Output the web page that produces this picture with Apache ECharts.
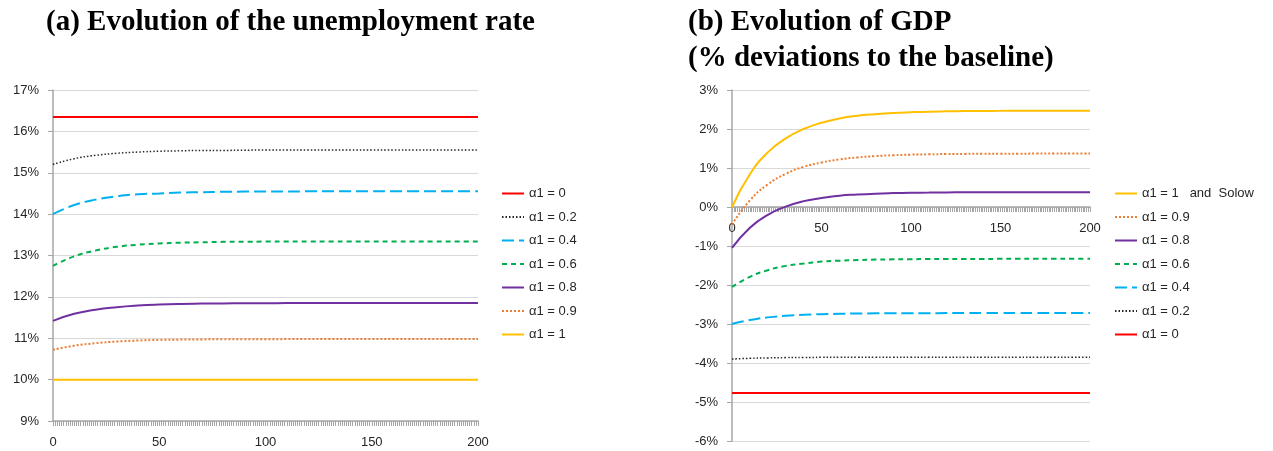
<!DOCTYPE html>
<html>
<head>
<meta charset="utf-8">
<script src="https://cdn.jsdelivr.net/npm/echarts@6/dist/echarts.min.js"></script>
<style>
  html, body { margin: 0; padding: 0; background: #fff; }
  #chart { width: 1273px; height: 451px; }
</style>
</head>
<body>
<div id="chart"></div>
<script>
// Periods at which each simulated path is sampled
const periods = [0, 10, 20, 30, 40, 50, 60, 70, 80, 90, 100, 110, 120, 130, 140, 150, 160, 170, 180, 190, 200];

// (a) Unemployment rate, %
const unempA0  = [16.35, 16.35, 16.35, 16.35, 16.35, 16.35, 16.35, 16.35, 16.35, 16.35, 16.35, 16.35, 16.35, 16.35, 16.35, 16.35, 16.35, 16.35, 16.35, 16.35, 16.35];
const unempA02 = [15.20, 15.34, 15.42, 15.47, 15.50, 15.52, 15.53, 15.54, 15.54, 15.545, 15.55, 15.55, 15.55, 15.55, 15.55, 15.55, 15.55, 15.55, 15.55, 15.55, 15.55];
const unempA04 = [14.00, 14.22, 14.35, 14.43, 14.48, 14.50, 14.52, 14.53, 14.54, 14.544, 14.546, 14.548, 14.55, 14.55, 14.55, 14.55, 14.55, 14.55, 14.55, 14.55, 14.55];
const unempA06 = [12.75, 12.98, 13.12, 13.21, 13.26, 13.29, 13.31, 13.32, 13.33, 13.333, 13.336, 13.338, 13.34, 13.34, 13.34, 13.34, 13.34, 13.34, 13.34, 13.34, 13.34];
const unempA08 = [11.42, 11.59, 11.69, 11.75, 11.79, 11.815, 11.83, 11.837, 11.842, 11.845, 11.847, 11.849, 11.85, 11.85, 11.85, 11.85, 11.85, 11.85, 11.85, 11.85, 11.85];
const unempA09 = [10.72, 10.82, 10.88, 10.92, 10.945, 10.96, 10.967, 10.972, 10.975, 10.977, 10.978, 10.979, 10.98, 10.98, 10.98, 10.98, 10.98, 10.98, 10.98, 10.98, 10.98];
const unempA1  = [10.00, 10.00, 10.00, 10.00, 10.00, 10.00, 10.00, 10.00, 10.00, 10.00, 10.00, 10.00, 10.00, 10.00, 10.00, 10.00, 10.00, 10.00, 10.00, 10.00, 10.00];

// (b) GDP, % deviation from the baseline
const gdpA1  = [0.00, 0.84, 1.40, 1.76, 2.00, 2.16, 2.27, 2.34, 2.38, 2.41, 2.43, 2.445, 2.453, 2.459, 2.463, 2.465, 2.467, 2.468, 2.469, 2.47, 2.47];
const gdpA09 = [-0.45, 0.17, 0.58, 0.85, 1.03, 1.14, 1.22, 1.27, 1.305, 1.327, 1.342, 1.351, 1.358, 1.362, 1.365, 1.367, 1.368, 1.369, 1.37, 1.37, 1.37];
const gdpA08 = [-1.05, -0.53, -0.20, 0.01, 0.15, 0.23, 0.29, 0.32, 0.342, 0.356, 0.365, 0.37, 0.374, 0.377, 0.378, 0.379, 0.38, 0.38, 0.38, 0.38, 0.38];
const gdpA06 = [-2.05, -1.79, -1.62, -1.51, -1.45, -1.40, -1.377, -1.36, -1.349, -1.342, -1.338, -1.335, -1.333, -1.332, -1.331, -1.33, -1.33, -1.33, -1.33, -1.33, -1.33];
const gdpA04 = [-3.00, -2.90, -2.83, -2.79, -2.765, -2.749, -2.738, -2.732, -2.727, -2.725, -2.723, -2.722, -2.721, -2.72, -2.72, -2.72, -2.72, -2.72, -2.72, -2.72, -2.72];
const gdpA02 = [-3.90, -3.88, -3.87, -3.862, -3.858, -3.855, -3.853, -3.852, -3.851, -3.85, -3.85, -3.85, -3.85, -3.85, -3.85, -3.85, -3.85, -3.85, -3.85, -3.85, -3.85];
const gdpA0  = [-4.77, -4.77, -4.77, -4.77, -4.77, -4.77, -4.77, -4.77, -4.77, -4.77, -4.77, -4.77, -4.77, -4.77, -4.77, -4.77, -4.77, -4.77, -4.77, -4.77, -4.77];

const namesLeft  = ['α1 = 0', 'α1 = 0.2', 'α1 = 0.4', 'α1 = 0.6', 'α1 = 0.8', 'α1 = 0.9', 'α1 = 1'];
const namesRight = ['α1 = 1   and  Solow', 'α1 = 0.9', 'α1 = 0.8', 'α1 = 0.6', 'α1 = 0.4', 'α1 = 0.2', 'α1 = 0'];

// Line looks, keyed by α1 value
const looks = {
  '0':   { color: '#ff0000', width: 2,   type: 'solid' },
  '0.2': { color: '#262626', width: 1.5, type: [1.5, 2] },
  '0.4': { color: '#00b0f0', width: 2,   type: [12, 5] },
  '0.6': { color: '#00b050', width: 2,   type: [5, 4] },
  '0.8': { color: '#7030a0', width: 2,   type: 'solid' },
  '0.9': { color: '#ed7d31', width: 2,   type: [2, 2] },
  '1':   { color: '#ffc000', width: 2,   type: 'solid' }
};

function pairs(values) {
  return periods.map((t, i) => [t, values[i]]);
}

function lineSeries(name, key, values, axisIndex) {
  const lk = looks[key];
  return {
    name: name,
    type: 'line',
    xAxisIndex: axisIndex,
    yAxisIndex: axisIndex,
    data: pairs(values),
    smooth: 0.5,
    showSymbol: false,
    symbol: 'none',
    color: lk.color,
    lineStyle: { color: lk.color, width: lk.width, type: lk.type },
    emphasis: { disabled: true },
    animation: false
  };
}

const FONT = 'Liberation Sans';
const labelColor = '#262626';
const axisGray = '#a6a6a6';
const gridGray = '#d9d9d9';

const gridA = { left: 53, top: 90, width: 425, height: 331 };
const gridB = { left: 732, top: 90, width: 358, height: 351 };
const rangeA = [9, 17];
const rangeB = [-6, 3];

// Shift of the GDP time axis from the grid bottom up to the 0% line
const zeroShiftB = -gridB.height * (0 - rangeB[0]) / (rangeB[1] - rangeB[0]);

function xAxisDef(gridIndex, offset) {
  return {
    type: 'value',
    gridIndex: gridIndex,
    min: 0, max: 200, interval: 50,
    offset: offset,
    axisLine: { show: true, onZero: false, lineStyle: { color: axisGray, width: 1.5 } },
    axisTick: { show: true, length: 5, lineStyle: { color: axisGray } },
    minorTick: { show: true, splitNumber: 50, length: 5, lineStyle: { color: axisGray } },
    splitLine: { show: false },
    axisLabel: { color: labelColor, fontFamily: FONT, fontSize: 13, margin: 15 }
  };
}

function yAxisDef(gridIndex, range) {
  return {
    type: 'value',
    gridIndex: gridIndex,
    min: range[0], max: range[1], interval: 1,
    axisLine: { show: true, lineStyle: { color: axisGray, width: 1.5 } },
    axisTick: { show: true, length: 5, lineStyle: { color: axisGray } },
    splitLine: { show: true, lineStyle: { color: gridGray, width: 1 } },
    axisLabel: {
      color: labelColor, fontFamily: FONT, fontSize: 13, margin: 14,
      formatter: v => v + '%'
    }
  };
}

const titleFont = {
  fontFamily: 'Liberation Serif', fontWeight: 'bold', fontSize: 29,
  color: '#000', lineHeight: 36
};

const legendText = { color: labelColor, fontFamily: FONT, fontSize: 13 };

function legendDef(names, left) {
  return {
    data: names, orient: 'vertical', left: left, top: 187, padding: 0,
    itemWidth: 22, itemHeight: 14, itemGap: 10.5,
    itemStyle: { opacity: 0 },
    textStyle: legendText,
    selectedMode: false
  };
}

const option = {
  backgroundColor: '#ffffff',
  animation: false,
  title: [
    { text: '(a) Evolution of the unemployment rate', left: 46, top: 5, padding: 0, textStyle: titleFont },
    { text: '(b) Evolution of GDP\n(% deviations to the baseline)', left: 688, top: 5, padding: 0, textStyle: titleFont }
  ],
  grid: [gridA, gridB],
  xAxis: [xAxisDef(0, 0), xAxisDef(1, zeroShiftB)],
  yAxis: [yAxisDef(0, rangeA), yAxisDef(1, rangeB)],
  legend: [legendDef(namesLeft, 501), legendDef(namesRight, 1114)],
  series: [
    lineSeries('α1 = 0',   '0',   unempA0,  0),
    lineSeries('α1 = 0.2', '0.2', unempA02, 0),
    lineSeries('α1 = 0.4', '0.4', unempA04, 0),
    lineSeries('α1 = 0.6', '0.6', unempA06, 0),
    lineSeries('α1 = 0.8', '0.8', unempA08, 0),
    lineSeries('α1 = 0.9', '0.9', unempA09, 0),
    lineSeries('α1 = 1',   '1',   unempA1,  0),

    lineSeries('α1 = 1   and  Solow', '1', gdpA1, 1),
    lineSeries('α1 = 0.9', '0.9', gdpA09, 1),
    lineSeries('α1 = 0.8', '0.8', gdpA08, 1),
    lineSeries('α1 = 0.6', '0.6', gdpA06, 1),
    lineSeries('α1 = 0.4', '0.4', gdpA04, 1),
    lineSeries('α1 = 0.2', '0.2', gdpA02, 1),
    lineSeries('α1 = 0',   '0',   gdpA0,  1)
  ]
};

const chart = echarts.init(document.getElementById('chart'), null, { renderer: 'canvas' });
chart.setOption(option);
</script>
</body>
</html>
